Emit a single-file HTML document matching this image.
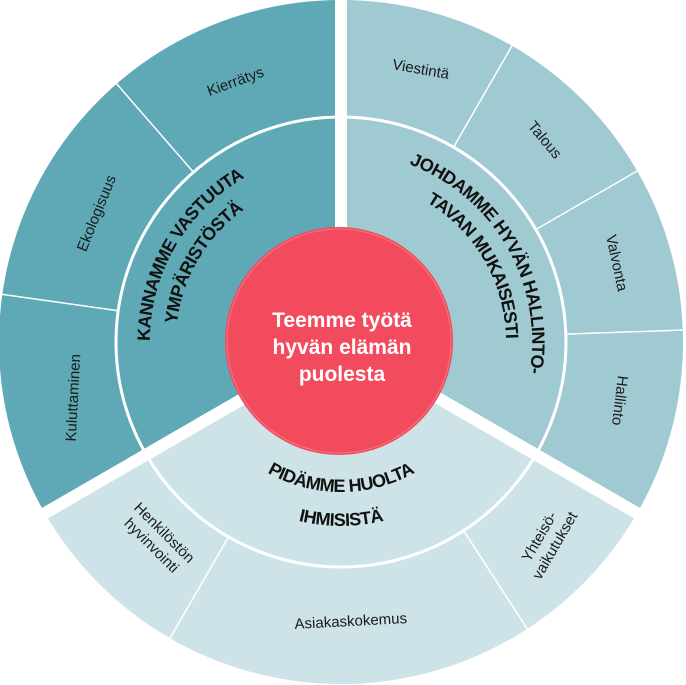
<!DOCTYPE html>
<html><head><meta charset="utf-8"><style>
html,body{margin:0;padding:0;background:#fff;width:686px;height:685px;overflow:hidden}
svg{display:block}
.l{font-family:"Liberation Sans",sans-serif;font-size:15px;fill:#1a1a1a;text-anchor:middle}
.h{font-family:"Liberation Sans",sans-serif;font-size:18px;font-weight:bold;fill:#111;letter-spacing:-0.6px}
.c{font-family:"Liberation Sans",sans-serif;font-size:21px;font-weight:bold;fill:#fff;text-anchor:middle}
</style></head><body>
<svg width="686" height="685" viewBox="0 0 686 685" xmlns="http://www.w3.org/2000/svg">
<defs>
<path id="l1" d="M172.5,432 A190,190 0 0 1 334.4,152.1"/>
<path id="l2" d="M195.3,419 A163,163 0 0 1 335.3,179.1"/>
<path id="r1" d="M347.6,152.1 A190,190 0 0 1 509.5,432"/>
<path id="r2" d="M346.7,179.1 A163,163 0 0 1 486.7,419"/>
<path id="b1" d="M218.1,428 A150,150 0 0 0 463.9,428"/>
<path id="b2" d="M191.8,446.6 A180,180 0 0 0 490.2,446.6"/>
</defs>
<path d="M341,342 L44.8,513 A342,342 0 0 1 341,0 Z" fill="#5fa9b6"/>
<path d="M341,342 L341,0 A342,342 0 0 1 637.2,513 Z" fill="#a0cad2"/>
<path d="M341,342 L637.2,513 A342,342 0 0 1 44.8,513 Z" fill="#cde3e8"/>
<circle cx="341" cy="342" r="225" fill="none" stroke="#fff" stroke-width="3"/>
<g stroke="#fff" stroke-width="1.5">
<line x1="193.4" y1="172.1" x2="116.6" y2="83.8"/>
<line x1="118.2" y1="310.7" x2="2.3" y2="294.4"/>
<line x1="453.5" y1="147.2" x2="512" y2="45.8"/>
<line x1="535.9" y1="229.5" x2="637.2" y2="171"/>
<line x1="565.9" y1="334.1" x2="684" y2="330"/>
<line x1="463.6" y1="530.7" x2="527.3" y2="628.9"/>
<line x1="228.5" y1="536.9" x2="170" y2="638.2"/>
</g>
<g stroke="#fff" stroke-width="12">
<line x1="341" y1="342" x2="341" y2="-5"/>
<line x1="341" y1="342" x2="40" y2="516"/>
<line x1="341" y1="342" x2="642" y2="516"/>
</g>
<circle cx="339" cy="341" r="114" fill="#f24b5e"/>
<circle cx="339" cy="341" r="112" fill="none" stroke="#f7a0a8" stroke-width="0.8" opacity="0.6"/>
<text class="l" transform="translate(237,86) rotate(-20)">Kierrätys</text>
<text class="l" transform="translate(101,215) rotate(-68)">Ekologisuus</text>
<text class="l" transform="translate(78,398) rotate(-87)">Kuluttaminen</text>
<text class="l" transform="translate(420,74) rotate(10)">Viestintä</text>
<text class="l" transform="translate(541,143) rotate(50)">Talous</text>
<text class="l" transform="translate(612,264) rotate(78)">Valvonta</text>
<text class="l" transform="translate(615,400) rotate(97)">Hallinto</text>
<text class="l" transform="translate(547,541) rotate(-60)"><tspan x="0" y="-4">Yhteisö-</tspan><tspan x="0" y="14">vaikutukset</tspan></text>
<text class="l" transform="translate(351,626) rotate(-3)">Asiakaskokemus</text>
<text class="l" transform="translate(158,539) rotate(45)"><tspan x="0" y="-4">Henkilöstön</tspan><tspan x="0" y="14">hyvinvointi</tspan></text>
<text class="h"><textPath href="#l1" startOffset="50%" text-anchor="middle">KANNAMME VASTUUTA</textPath></text>
<text class="h"><textPath href="#l2" startOffset="50%" text-anchor="middle">YMPÄRISTÖSTÄ</textPath></text>
<text class="h"><textPath href="#r1" startOffset="50%" text-anchor="middle">JOHDAMME HYVÄN HALLINTO-</textPath></text>
<text class="h"><textPath href="#r2" startOffset="50%" text-anchor="middle">TAVAN MUKAISESTI</textPath></text>
<text class="h"><textPath href="#b1" startOffset="50%" text-anchor="middle">PIDÄMME HUOLTA</textPath></text>
<text class="h"><textPath href="#b2" startOffset="50%" text-anchor="middle">IHMISISTÄ</textPath></text>
<text class="c" x="342" y="327">Teemme työtä</text>
<text class="c" x="342" y="354">hyvän elämän</text>
<text class="c" x="342" y="381">puolesta</text>
</svg>
</body></html>
